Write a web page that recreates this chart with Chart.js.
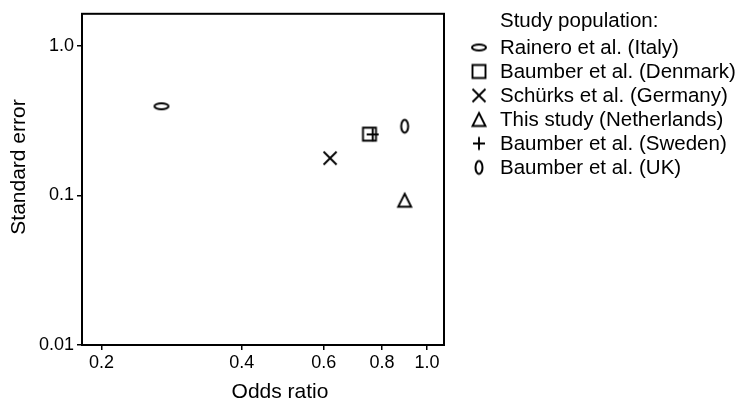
<!DOCTYPE html>
<html>
<head>
<meta charset="utf-8">
<script src="https://cdn.jsdelivr.net/npm/chart.js@4"></script>
<style>
  html, body { margin: 0; padding: 0; background: #fff; }
  canvas { display: block; }
</style>
</head>
<body>
<canvas id="funnelChart" width="738" height="403"></canvas>
<script>
// Study data
const studies = [
    'Rainero et al. (Italy)',
    'Baumber et al. (Denmark)',
    'Schürks et al. (Germany)',
    'This study (Netherlands)',
    'Baumber et al. (Sweden)',
    'Baumber et al. (UK)'
];
const oddsRatio = [0.269, 0.752, 0.619, 0.895, 0.764, 0.895];
const stdError = [0.393, 0.256, 0.177, 0.0927, 0.255, 0.289];
const markers = ['ovalH', 'square', 'xcross', 'triangle', 'plus', 'ovalV'];

const xTicks = [0.2, 0.4, 0.6, 0.8, 1.0];
const xTickLabels = ['0.2', '0.4', '0.6', '0.8', '1.0'];
const yTicks = [0.01, 0.1, 1.0];
const yTickLabels = ['0.01', '0.1', '1.0'];

const FONT = "'Liberation Sans', Arial, Helvetica, sans-serif";

// build a small canvas for each marker so it can be used as pointStyle
function makeMarker(kind) {
    const c = document.createElement('canvas');
    c.width = 20;
    c.height = 20;
    const g = c.getContext('2d');
    g.strokeStyle = '#000';
    g.lineWidth = 1.9;
    g.translate(10, 10);
    g.beginPath();
    if (kind === 'ovalH') {
        g.lineWidth = 2;
        g.ellipse(0, 0, 7, 3, 0, 0, Math.PI * 2);
    } else if (kind === 'ovalV') {
        g.lineWidth = 2;
        g.ellipse(0, 0, 3.5, 6.5, 0, 0, Math.PI * 2);
    } else if (kind === 'square') {
        g.rect(-6.5, -6.5, 13, 13);
    } else if (kind === 'xcross') {
        g.moveTo(-6.5, -6.5); g.lineTo(6.5, 6.5);
        g.moveTo(6.5, -6.5); g.lineTo(-6.5, 6.5);
    } else if (kind === 'triangle') {
        g.moveTo(0, -6.5);
        g.lineTo(6.5, 6.5);
        g.lineTo(-6.5, 6.5);
        g.closePath();
    } else if (kind === 'plus') {
        g.moveTo(-6, 0); g.lineTo(6, 0);
        g.moveTo(0, -6.5); g.lineTo(0, 6.5);
    }
    g.stroke();
    return c;
}

const markerImages = markers.map(makeMarker);

const datasets = studies.map(function(name, i) {
    return {
        label: name,
        data: [{ x: oddsRatio[i], y: stdError[i] }],
        pointStyle: markerImages[i],
        pointRadius: 8,
        borderColor: '#000',
        backgroundColor: 'transparent'
    };
});

// frame, axis titles and legend drawn around the plot
const decorations = {
    id: 'decorations',
    afterDraw(chart) {
        const ctx = chart.ctx;
        const area = chart.chartArea;
        ctx.save();
        ctx.strokeStyle = '#000';
        ctx.lineWidth = 2;
        ctx.strokeRect(area.left, area.top, area.right - area.left, area.bottom - area.top);

        ctx.fillStyle = '#000';
        ctx.font = '21px ' + FONT;
        ctx.textBaseline = 'alphabetic';
        ctx.textAlign = 'center';
        ctx.fillText('Odds ratio', 280, 398);

        ctx.save();
        ctx.translate(25, 167);
        ctx.rotate(-Math.PI / 2);
        ctx.fillText('Standard error', 0, 0);
        ctx.restore();

        // legend
        ctx.font = '20.5px ' + FONT;
        ctx.textAlign = 'left';
        ctx.fillText('Study population:', 500, 27);
        studies.forEach(function(name, i) {
            const base = 54 + i * 24;
            ctx.fillText(name, 500, base);
            const img = markerImages[i];
            ctx.drawImage(img, 479 - img.width / 2, base - 6.5 - img.height / 2);
        });
        ctx.restore();
    }
};

function initializeFunnelChart() {
    const ctx = document.getElementById('funnelChart').getContext('2d');
    new Chart(ctx, {
        type: 'scatter',
        data: { datasets: datasets },
        options: {
            responsive: false,
            animation: false,
            devicePixelRatio: 1,
            layout: { padding: { left: 0, right: 294, top: 10, bottom: 0 } },
            plugins: {
                legend: { display: false },
                tooltip: { enabled: false }
            },
            scales: {
                x: {
                    type: 'logarithmic',
                    min: 0.1816,
                    max: 1.087,
                    afterBuildTicks: function(scale) {
                        scale.ticks = xTicks.map(function(v) { return { value: v }; });
                    },
                    afterFit: function(scale) { scale.height = 58; },
                    ticks: {
                        color: '#000',
                        font: { family: FONT, size: 18 },
                        padding: 2,
                        maxRotation: 0,
                        autoSkip: false,
                        callback: function(value, index) { return xTickLabels[index]; }
                    },
                    grid: { drawOnChartArea: false, drawTicks: true, tickLength: 5, color: '#000', lineWidth: 1.5 },
                    border: { display: false }
                },
                y: {
                    type: 'logarithmic',
                    min: 0.01,
                    max: 1.63,
                    afterBuildTicks: function(scale) {
                        scale.ticks = yTicks.map(function(v) { return { value: v }; });
                    },
                    afterFit: function(scale) { scale.width = 82; },
                    ticks: {
                        color: '#000',
                        font: { family: FONT, size: 18 },
                        padding: 3,
                        autoSkip: false,
                        callback: function(value, index) { return yTickLabels[index]; }
                    },
                    grid: { drawOnChartArea: false, drawTicks: true, tickLength: 5, color: '#000', lineWidth: 1.5 },
                    border: { display: false }
                }
            }
        },
        plugins: [decorations]
    });
}

document.addEventListener('DOMContentLoaded', initializeFunnelChart);
</script>
</body>
</html>
